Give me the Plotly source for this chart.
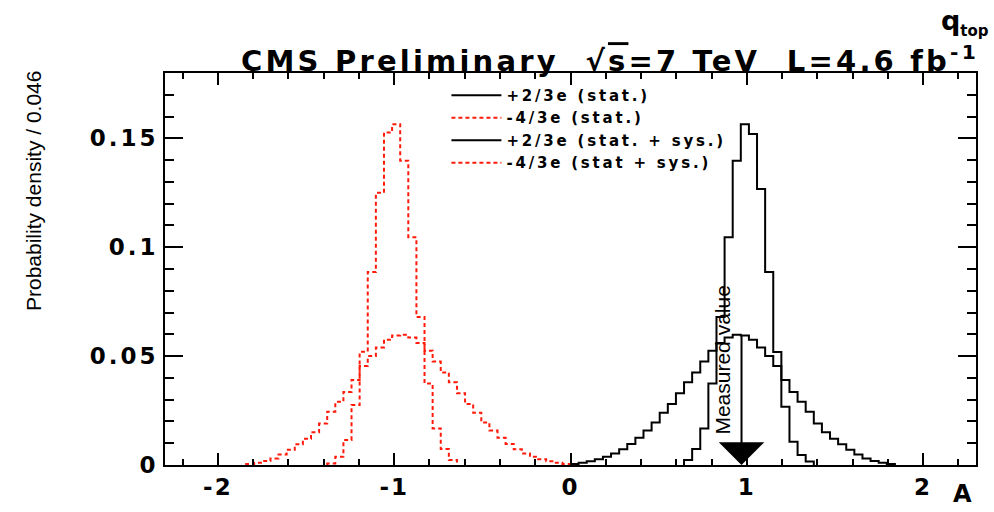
import plotly.graph_objects as go

# ---------------- data ----------------
bin_low = -2.3
bin_width = 0.046

series_names = ["+2/3e (stat.)", "-4/3e (stat.)", "+2/3e (stat. + sys.)", "-4/3e (stat + sys.)"]

# +2/3e (stat.)  -- black, narrow
black_stat_first_bin = 64
black_stat = [0.0023, 0.0073, 0.0168, 0.0374, 0.068, 0.1046, 0.1397, 0.1565,
              0.152, 0.1267, 0.0886, 0.0519, 0.0267, 0.0107, 0.0046, 0.0016]

# -4/3e (stat.)  -- red, narrow
red_stat_first_bin = 20
red_stat = [0.0007, 0.0038, 0.0115, 0.0275, 0.052, 0.0886, 0.125, 0.1527,
            0.1565, 0.1397, 0.1046, 0.068, 0.0374, 0.0168, 0.0073, 0.0023]

# +2/3e (stat. + sys.)  -- black, broad
black_sys_first_bin = 50
black_sys = [0.0005, 0.001, 0.0017, 0.0026, 0.0038, 0.0053, 0.0072, 0.0097, 0.0125, 0.0158,
             0.0195, 0.024, 0.028, 0.033, 0.038, 0.0425, 0.0475, 0.0525, 0.056, 0.0585,
             0.0598, 0.0595, 0.0575, 0.054, 0.050, 0.0455, 0.039, 0.0335, 0.029, 0.0245,
             0.019, 0.015, 0.012, 0.0095, 0.007, 0.0048, 0.003, 0.0018, 0.001, 0.0005]

# -4/3e (stat + sys.)  -- red, broad
red_sys_first_bin = 10
red_sys = [0.0005, 0.001, 0.0018, 0.003, 0.0048, 0.007, 0.0095, 0.012, 0.015, 0.019,
           0.0245, 0.029, 0.0335, 0.039, 0.0455, 0.050, 0.054, 0.0575, 0.0595, 0.0598,
           0.0585, 0.056, 0.0525, 0.0475, 0.0425, 0.038, 0.033, 0.028, 0.024, 0.0195,
           0.0158, 0.0125, 0.0097, 0.0072, 0.0053, 0.0038, 0.0026, 0.0017, 0.001, 0.0005]

x_tick_vals = [-2, -1, 0, 1, 2]
x_tick_text = ["-2", "-1", "0", "1", "2"]
y_tick_vals = [0, 0.05, 0.1, 0.15]
y_tick_text = ["0", "0.05", "0.1", "0.15"]

measured_value = 0.97
arrow_top = 0.06

x_range = [-2.3, 2.3]
y_range = [0, 0.18]


def step_xy(first_bin, vals):
    lo = bin_low + first_bin * bin_width
    xs = [lo] + [lo + i * bin_width for i in range(len(vals))] + [lo + len(vals) * bin_width]
    ys = [0] + list(vals) + [0]
    return xs, ys


def spaced(text, px):
    return '<span style="letter-spacing:%gpx">%s</span>' % (px, text)


RED = "#ff1a0a"
BLACK = "#000000"
red_dash = "4px,3px"

series = [
    (series_names[0], black_stat_first_bin, black_stat, BLACK, "solid"),
    (series_names[1], red_stat_first_bin, red_stat, RED, red_dash),
    (series_names[2], black_sys_first_bin, black_sys, BLACK, "solid"),
    (series_names[3], red_sys_first_bin, red_sys, RED, red_dash),
]

fig = go.Figure()
for i, (name, fb, vals, col, dash) in enumerate(series):
    xs, ys = step_xy(fb, vals)
    fig.add_trace(go.Scatter(
        x=xs, y=ys, mode="lines", name=spaced(name, 2.8), legendgroup="g%d" % i,
        line=dict(shape="hv", color=col, width=2, dash=dash),
        hoverinfo="skip",
    ))

FONT = "DejaVu Sans"
ARIAL = "Liberation Sans, Arial"

fig.update_layout(
    width=994, height=512,
    margin=dict(l=165, r=18, t=73, b=45, pad=0),
    paper_bgcolor="white", plot_bgcolor="white",
    showlegend=True,
    legend=dict(
        x=0.347, y=0.985, xanchor="left", yanchor="top",
        bgcolor="rgba(255,255,255,0)", borderwidth=0,
        font=dict(family=FONT, size=15, color="black", weight="bold"),
        itemwidth=50, tracegroupgap=0,
    ),
    xaxis=dict(
        range=x_range, showgrid=False, zeroline=False,
        showline=True, linecolor="black", linewidth=2, mirror="allticks",
        ticks="inside", ticklen=12, tickwidth=2, tickcolor="black",
        tickmode="array", tickvals=x_tick_vals,
        ticktext=[spaced(t, 2) for t in x_tick_text],
        tickfont=dict(family=FONT, size=23, color="black", weight="bold"),
        minor=dict(ticks="inside", tick0=0, dtick=0.2, ticklen=6, tickwidth=2, tickcolor="black", showgrid=False),
    ),
    yaxis=dict(
        range=y_range, showgrid=False, zeroline=False,
        showline=True, linecolor="black", linewidth=2, mirror="allticks",
        ticks="inside", ticklen=18, tickwidth=2, tickcolor="black",
        tickmode="array", tickvals=y_tick_vals,
        ticktext=[spaced(t, 3) for t in y_tick_text],
        tickfont=dict(family=FONT, size=23, color="black", weight="bold"),
        minor=dict(ticks="inside", tick0=0, dtick=0.01, ticklen=9, tickwidth=2, tickcolor="black", showgrid=False),
    ),
)

header = ('CMS Preliminary  √<span style="text-decoration:overline">s</span>=7 TeV  '
          'L=4.6 fb<sup>-1</sup>')

annotations = [
    # header
    dict(text=spaced(header, 3.2),
         xref="paper", yref="paper", x=1.006, y=1.036, xanchor="right", yanchor="middle",
         showarrow=False, font=dict(family=FONT, size=29, color="black", weight="bold")),
    dict(text='q<sub><span style="font-size:15px">top</span></sub>', xref="paper", yref="paper",
         x=1.019, y=1.13, xanchor="right", yanchor="middle", showarrow=False,
         font=dict(family=FONT, size=27, color="black", weight="bold")),
    # y title
    dict(text="Probability density / 0.046", xref="paper", yref="paper", x=-0.1615, y=0.699,
         xanchor="center", yanchor="middle", textangle=-90, showarrow=False,
         font=dict(family=ARIAL, size=21, color="black")),
    # x title
    dict(text="A", xref="paper", yref="paper", x=0.983, y=-0.075,
         xanchor="center", yanchor="middle", showarrow=False,
         font=dict(family=FONT, size=24, color="black", weight="bold")),
    # measured value arrow
    dict(text="", x=measured_value, y=0, ax=measured_value, ay=arrow_top,
         xref="x", yref="y", axref="x", ayref="y",
         showarrow=True, arrowhead=1, arrowsize=3.8, arrowwidth=2, arrowcolor="black", standoff=0),
    dict(text="Measured value", x=measured_value - 0.11, y=arrow_top * 0.8, xref="x", yref="y",
         xanchor="center", yanchor="middle", textangle=-90, showarrow=False,
         font=dict(family=ARIAL, size=21, color="black")),
]
fig.update_layout(annotations=annotations)

fig.write_html("out.html")
